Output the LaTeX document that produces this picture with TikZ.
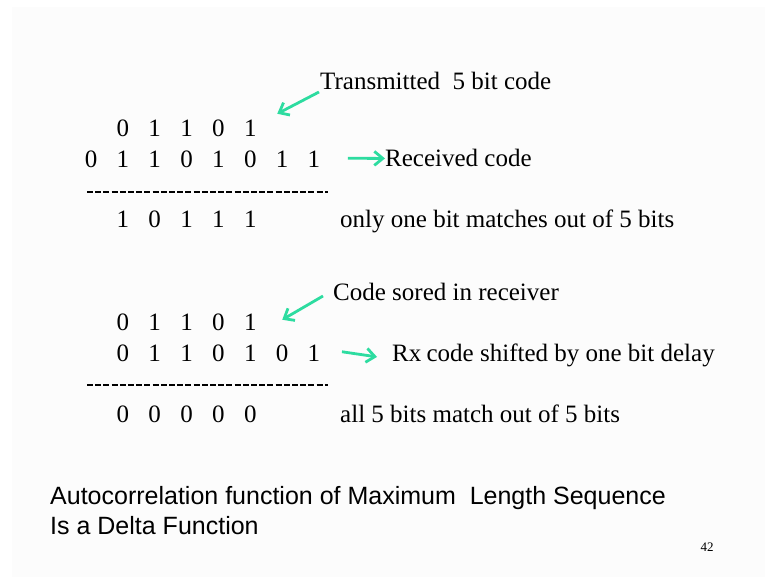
\documentclass[tikz,border=0pt]{standalone}
\usepackage{fontspec}
\setmainfont{Liberation Serif}
\newfontfamily\arial{Liberation Sans}
\usetikzlibrary{calc,arrows.meta}
\definecolor{seafoam}{RGB}{45,220,160}

\begin{document}
\begin{tikzpicture}[x=1pt,y=-1pt,
		bit/.style={anchor=base,inner sep=0pt,font=\fontsize{25}{25}\selectfont},
		lbl/.style={anchor=base west,inner sep=0pt,font=\fontsize{25}{25}\selectfont},
		ptr/.style={seafoam,line width=2.8pt,-{Straight Barb[length=8.5pt,width=14pt]}},
		rule/.style={line width=2.4pt,dash pattern=on 6pt off 2.2pt}]
		\useasboundingbox (0,0) rectangle (765,577);
		\fill[white] (0,0) rectangle (765,577);
		\fill[black!1] (12,7) rectangle (765,577);

		\def\dx{31.85}
		\coordinate (upper) at (91,137);
		\coordinate (lower) at (91,330);

		% transmitted code against the received stream
		\foreach \b [count=\i] in {0,1,1,0,1}
			\node[bit] (tx\i) at ($(upper)+(\i*\dx,0)$) {\b};
		\foreach \b [count=\i from 0] in {0,1,1,0,1,0,1,1}
			\node[bit] (rx\i) at ($(upper)+(\i*\dx,30.5)$) {\b};
		\draw[rule] ($(upper)+(-4,55)$) -- ($(upper)+(237,55)$);
		\foreach \b [count=\i] in {1,0,1,1,1}
			\node[bit] (ma\i) at ($(upper)+(\i*\dx,91)$) {\b};

		\node[lbl] (txlbl) at (320,90) {Transmitted\ \ 5 bit code};
		\node[lbl] (rxlbl) at (385,167) {Received code};
		\node[lbl] (malbl) at (340,228) {only one bit matches out of 5 bits};

		\coordinate (txtip) at ($(tx5)+(27,-15)$);
		\coordinate (rxtail) at ($(rx7)+(34,-1)$);
		\draw[ptr] ($(txlbl.base west)+(-1,2)$) -- (txtip);
		\draw[ptr] (rxtail) -- (rxlbl.west);

		% stored code against the delayed stream
		\foreach \b [count=\i] in {0,1,1,0,1}
			\node[bit] (st\i) at ($(lower)+(\i*\dx,0)$) {\b};
		\foreach \b [count=\i] in {0,1,1,0,1,0,1}
			\node[bit] (sh\i) at ($(lower)+(\i*\dx,31)$) {\b};
		\draw[rule] ($(lower)+(-4,55)$) -- ($(lower)+(237,55)$);
		\foreach \b [count=\i] in {0,0,0,0,0}
			\node[bit] (mb\i) at ($(lower)+(\i*\dx,92)$) {\b};

		\node[lbl] (stlbl) at (333,300) {Code sored in receiver};
		\node[lbl] (shlbl) at (392,361) {Rx\kern-1pt\ code shifted by one bit delay};
		\node[lbl] (mblbl) at (340,422) {all 5 bits match out of 5 bits};

		\coordinate (sttip) at ($(st5)+(32,-2)$);
		\coordinate (shtail) at ($(sh7)+(28,-1)$);
		\draw[ptr] ($(stlbl.base west)+(-10,-4)$) -- (sttip);
		\draw[ptr] (shtail) -- ($(shlbl.west)+(-15,2)$);

		\node[anchor=base west,inner sep=0pt,font=\arial\fontsize{25}{25}\selectfont] (acf1) at (50,504) {Autocorrelation function of Maximum\ \ Length Sequence};
		\node[anchor=base west,inner sep=0pt,font=\arial\fontsize{25}{25}\selectfont] (acf2) at (50,534) {Is a Delta Function};
		\node[font=\fontsize{13}{13}\selectfont] (page) at (707,547) {42};
	\end{tikzpicture}
\end{document}
